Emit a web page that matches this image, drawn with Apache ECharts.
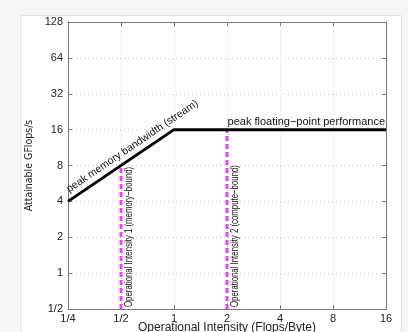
<!DOCTYPE html>
<html>
<head>
<meta charset="utf-8">
<script src="https://cdn.jsdelivr.net/npm/echarts@6/dist/echarts.min.js"></script>
<style>html,body{margin:0;padding:0;background:#f6f6f6}#c{width:408px;height:332px}</style>
</head>
<body>
<div id="c"></div>
<script>
// ---- data ----
const xTickValues = [0.25, 0.5, 1, 2, 4, 8, 16];
const xTickLabels = ['1/4', '1/2', '1', '2', '4', '8', '16'];
const yTickValues = [0.5, 1, 2, 4, 8, 16, 32, 64, 128];
const yTickLabels = ['1/2', '1', '2', '4', '8', '16', '32', '64', '128'];
const roofX = [0.25, 1, 16];
const roofY = [4, 16, 16];
const oiX = [0.5, 2];
const oiTop = [8, 16];
const oiLabels = ['Operational Intensity 1 (memory\u2212bound)', 'Operational Intensity 2 (compute\u2212bound)'];
const bandwidthLabel = 'peak memory bandwidth (stream)';
const peakLabel = 'peak floating\u2212point performance';
const xTitle = 'Operational Intensity (Flops/Byte)';
const yTitle = 'Attainable GFlops/s';

function lbl(values, labels) {
  return function (v) {
    for (let i = 0; i < values.length; i++) if (Math.abs(values[i] - v) / values[i] < 1e-6) return labels[i];
    return '';
  };
}

const chart = echarts.init(document.getElementById('c'), null, {renderer: 'canvas'});
const AX = '#7a7a7a';
const FONT = '"Liberation Sans", Arial, sans-serif';
const baseAxis = {
  type: 'log', logBase: 2,
  axisLine: {show: true, lineStyle: {color: AX, width: 1}},
  axisTick: {show: true, inside: true, length: 4, lineStyle: {color: AX}},
  splitLine: {show: false},
  axisLabel: {show: false}
};
const option = {
  backgroundColor: '#f6f6f6',
  animation: false,
  grid: {left: 68, right: 22, top: 22, bottom: 23, containLabel: false, outerBoundsMode: 'none'},
  xAxis: [
    Object.assign({}, baseAxis, {
      position: 'bottom', min: 0.25, max: 16, splitNumber: 6,
      splitLine: {show: true, lineStyle: {color: '#c8c8c8', type: [1, 3], width: 1}},
      axisLabel: {show: true, formatter: lbl(xTickValues, xTickLabels), color: '#222', fontSize: 11, fontFamily: FONT, margin: 4},
      name: xTitle, nameLocation: 'middle', nameGap: 13, nameMoveOverlap: false,
      nameTextStyle: {fontSize: 12, color: '#222', fontFamily: FONT, verticalAlign: 'top'}
    }),
    Object.assign({}, baseAxis, {position: 'top', min: 0.25, max: 16, splitNumber: 6})
  ],
  yAxis: [
    Object.assign({}, baseAxis, {
      position: 'left', min: 0.5, max: 128, splitNumber: 8,
      splitLine: {show: true, lineStyle: {color: '#c8c8c8', type: [1, 3], width: 1}},
      axisLabel: {show: true, formatter: lbl(yTickValues, yTickLabels), color: '#222', fontSize: 11, fontFamily: FONT, margin: 5},
      name: yTitle, nameLocation: 'middle', nameGap: 33, nameRotate: 90, nameMoveOverlap: false,
      nameTextStyle: {fontSize: 10.5, color: '#222', fontFamily: '"Liberation Sans Narrow", "DejaVu Sans Condensed", sans-serif'}
    }),
    Object.assign({}, baseAxis, {position: 'right', min: 0.5, max: 128, splitNumber: 8})
  ],
  series: [
    {
      type: 'line', xAxisIndex: 0, yAxisIndex: 0, symbol: 'none', z: 3,
      lineStyle: {color: '#f040f0', width: 3, type: [5, 3]},
      data: [[oiX[0], 0.5], [oiX[0], oiTop[0]]]
    },
    {
      type: 'line', xAxisIndex: 0, yAxisIndex: 0, symbol: 'none', z: 3,
      lineStyle: {color: '#f040f0', width: 3, type: [5, 3]},
      data: [[oiX[1], 0.5], [oiX[1], oiTop[1]]]
    },
    {
      type: 'line', xAxisIndex: 0, yAxisIndex: 0, symbol: 'none', z: 4,
      lineStyle: {color: '#000', width: 3},
      data: roofX.map((x, i) => [x, roofY[i]])
    }
  ]
};
chart.setOption(option);

const px = p => chart.convertToPixel({xAxisIndex: 0, yAxisIndex: 0}, p);
const p0 = px([roofX[0], roofY[0]]);
const p1 = px([roofX[1], roofY[1]]);
const p2 = px([roofX[2], roofY[2]]);
const ang = Math.atan2(p0[1] - p1[1], p1[0] - p0[0]);
const along = 6, perp = 4;
const graphics = [
  {type: 'rect', z: -100, silent: true, shape: {x: 20.5, y: 15.5, width: 381, height: 330},
   style: {fill: '#fff', stroke: '#e4e4e4', lineWidth: 1}},
  {type: 'text', z: 100,
   x: p0[0] + along * Math.cos(ang) - perp * Math.sin(ang),
   y: p0[1] - along * Math.sin(ang) - perp * Math.cos(ang), rotation: ang,
   style: {text: bandwidthLabel, fontSize: 10.5, fontFamily: FONT, fill: '#111', textAlign: 'left', textVerticalAlign: 'bottom'}},
  {type: 'text', z: 100, x: p2[0] - 1, y: p2[1] - 2,
   style: {text: peakLabel, fontSize: 11, fontFamily: FONT, fill: '#111', textAlign: 'right', textVerticalAlign: 'bottom'}},
  {type: 'text', z: 100, x: 410, y: 165, rotation: Math.PI / 2, scaleX: 0.75,
   style: {text: yTitle, fontSize: 11, fontFamily: FONT, fill: '#222', textAlign: 'center', textVerticalAlign: 'top'}}
];
oiX.forEach((x, i) => {
  const b = px([x, 0.5]);
  graphics.push({type: 'text', z: 100, x: b[0] + 2, y: b[1] - 2, rotation: Math.PI / 2, scaleX: 0.68,
    style: {text: oiLabels[i], fontSize: 11.5, fontFamily: FONT, fill: '#111', textAlign: 'left', textVerticalAlign: 'top'}});
});
chart.setOption({graphic: graphics});
</script>
</body>
</html>
